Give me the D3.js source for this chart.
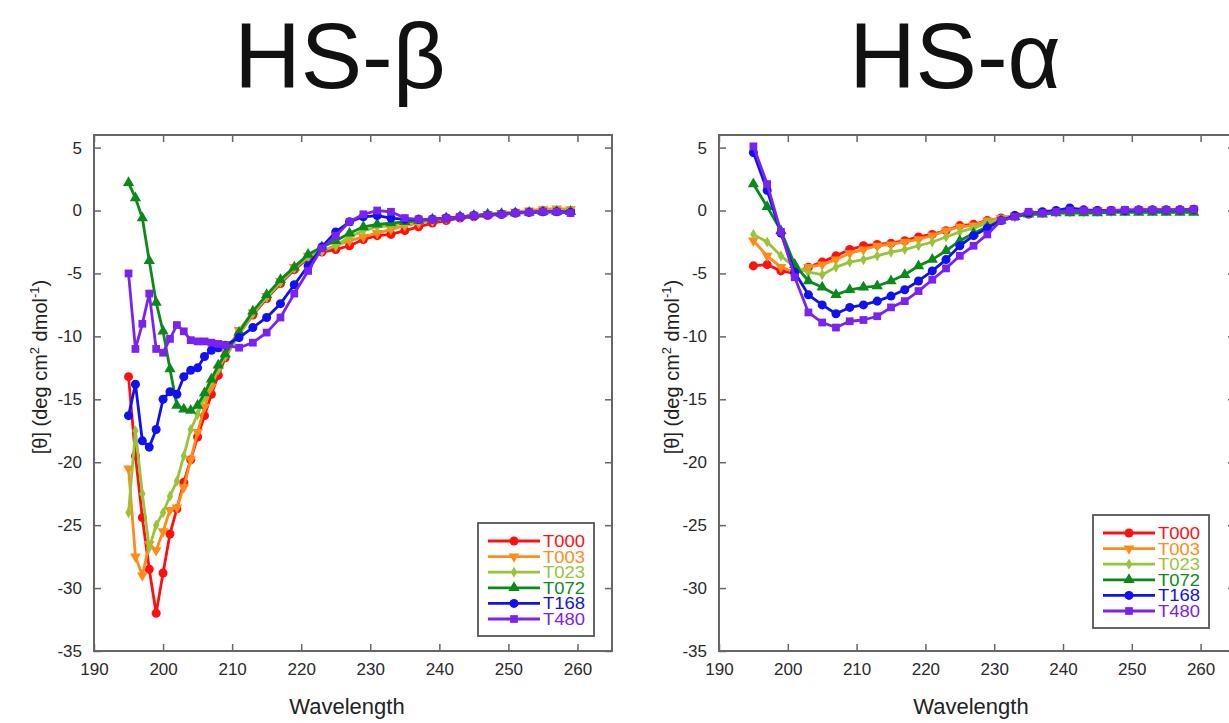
<!DOCTYPE html>
<html>
<head>
<meta charset="utf-8">
<script src="https://cdn.jsdelivr.net/npm/d3@7"></script>
<style>
  body { margin: 0; background: #fff; }
  text { font-family: "Liberation Sans", Arial, sans-serif; }
</style>
</head>
<body>
<script>
// series names and colours
var seriesNames = ["T000", "T003", "T023", "T072", "T168", "T480"];
var seriesColors = ["#ff1010", "#ff8c1a", "#99c43a", "#0a8a1a", "#1010f0", "#7a22f0"];

// axis ticks
var xTicks = [190, 200, 210, 220, 230, 240, 250, 260];
var yTicks = [5, 0, -5, -10, -15, -20, -25, -30, -35];

// HS-beta panel (finer steps at the start)
var wlBeta = [195, 196, 197, 198, 199, 200, 201, 202, 203, 204, 205, 206, 207, 208, 209,
  211, 213, 215, 217, 219, 221, 223, 225, 227, 229, 231, 233, 235, 237, 239,
  241, 243, 245, 247, 249, 251, 253, 255, 257, 259];
var betaT000 = [-13.2, -19.5, -24.4, -28.5, -32.0, -28.8, -25.7, -23.7, -21.6, -19.8, -18.0, -16.3, -14.6, -13.1, -11.7,
  -9.8, -8.3, -7.0, -5.8, -4.7, -3.8, -3.3, -3.1, -2.8, -2.3, -2.0, -1.9, -1.6, -1.3, -1.0,
  -0.8, -0.6, -0.5, -0.4, -0.3, -0.2, -0.1, 0, 0, 0];
var betaT003 = [-20.5, -27.5, -29.0, -26.5, -27.0, -25.5, -23.8, -23.6, -22.0, -19.8, -17.6, -15.6, -14.0, -12.6, -11.3,
  -9.5, -8.1, -6.8, -5.6, -4.5, -3.6, -3.2, -2.8, -2.4, -2.1, -1.8, -1.5, -1.2, -1.0, -0.8,
  -0.6, -0.5, -0.4, -0.3, -0.2, -0.1, 0, 0.1, 0.15, 0.1];
var betaT023 = [-24.0, -17.5, -22.5, -26.8, -25.0, -24.0, -22.7, -21.5, -19.5, -17.4, -16.2, -14.8, -13.6, -12.6, -11.6,
  -9.9, -8.2, -6.9, -5.7, -4.6, -3.7, -3.2, -2.8, -2.1, -1.6, -1.3, -1.2, -1.0, -0.9, -0.8,
  -0.6, -0.5, -0.4, -0.3, -0.2, -0.15, -0.1, -0.05, 0, 0];
var betaT072 = [2.2, 1.0, -0.6, -4.0, -7.3, -9.6, -12.6, -15.5, -15.8, -15.9, -15.5, -14.5, -13.4, -12.3, -11.4,
  -9.7, -8.0, -6.7, -5.5, -4.5, -3.5, -2.9, -2.4, -1.8, -1.3, -1.1, -1.0, -0.9, -0.8, -0.7,
  -0.6, -0.5, -0.4, -0.3, -0.25, -0.2, -0.15, -0.1, -0.1, -0.1];
var betaT168 = [-16.3, -13.8, -18.3, -18.8, -17.4, -15.0, -14.4, -14.6, -13.2, -12.7, -12.5, -11.6, -11.1, -10.9, -10.7,
  -10.1, -9.3, -8.5, -7.4, -5.9, -4.4, -2.9, -1.7, -0.9, -0.5, -0.4, -0.6, -0.7, -0.7, -0.7,
  -0.6, -0.5, -0.4, -0.35, -0.3, -0.2, -0.15, -0.1, -0.1, -0.15];
var betaT480 = [-5.0, -11.0, -9.0, -6.6, -11.0, -11.3, -10.2, -9.1, -9.6, -10.3, -10.4, -10.4, -10.5, -10.6, -10.7,
  -10.9, -10.5, -9.7, -8.5, -6.6, -4.8, -3.0, -2.0, -0.9, -0.3, 0, -0.1, -0.6, -0.7, -0.7,
  -0.6, -0.5, -0.4, -0.35, -0.3, -0.2, -0.15, -0.1, -0.1, -0.2];

// HS-alpha panel (2 nm steps)
var wlAlpha = [195, 197, 199, 201, 203, 205, 207, 209, 211, 213, 215, 217, 219, 221, 223, 225, 227,
  229, 231, 233, 235, 237, 239, 241, 243, 245, 247, 249, 251, 253, 255, 257, 259];
var alphaT000 = [-4.4, -4.3, -4.8, -5.0, -4.5, -4.1, -3.6, -3.1, -2.8, -2.7, -2.6, -2.4, -2.1, -1.9, -1.6, -1.2, -1.1,
  -0.8, -0.6, -0.4, -0.3, -0.2, -0.1, -0.1, 0, 0, 0, 0, 0, 0, 0, 0.05, 0.05];
var alphaT003 = [-2.4, -3.6, -4.5, -4.9, -4.5, -4.3, -3.9, -3.4, -3.1, -2.8, -2.7, -2.5, -2.3, -2.0, -1.6, -1.3, -1.2,
  -0.8, -0.6, -0.4, -0.2, -0.1, -0.1, 0, 0, 0, 0, 0, 0.05, 0.05, 0.05, 0.05, 0.05];
var alphaT023 = [-1.9, -2.5, -3.6, -4.5, -4.9, -5.1, -4.5, -4.1, -3.9, -3.6, -3.3, -3.1, -2.8, -2.5, -2.1, -1.7, -1.4,
  -1.0, -0.7, -0.5, -0.3, -0.2, -0.15, -0.1, -0.1, -0.05, -0.05, 0, 0, 0, 0, 0, 0];
var alphaT072 = [2.1, 0.3, -1.6, -4.3, -5.6, -6.1, -6.7, -6.3, -6.1, -6.0, -5.6, -5.1, -4.4, -3.9, -3.2, -2.4, -1.8,
  -1.3, -0.8, -0.5, -0.3, -0.3, -0.2, -0.2, -0.2, -0.2, -0.15, -0.15, -0.15, -0.15, -0.15, -0.15, -0.15];
var alphaT168 = [4.6, 1.6, -1.8, -4.9, -6.7, -7.5, -8.2, -7.7, -7.5, -7.2, -6.8, -6.3, -5.6, -4.8, -3.9, -2.8, -2.0,
  -1.4, -0.8, -0.4, -0.2, -0.1, 0, 0.2, 0.05, 0, 0, 0, 0.05, 0.05, 0.05, 0.05, 0.1];
var alphaT480 = [5.1, 2.1, -1.7, -5.3, -8.1, -8.9, -9.3, -8.8, -8.7, -8.4, -7.7, -7.2, -6.4, -5.5, -4.6, -3.6, -2.8,
  -1.9, -0.8, -0.5, -0.1, -0.2, -0.1, 0, 0, -0.05, 0, 0.05, 0.05, 0.05, 0.05, 0.05, 0.1];

// marker shapes per series
var symbols = [
  {type: d3.symbolCircle, size: 64, rot: 0},
  {type: d3.symbolTriangle, size: 50, rot: 180},
  {type: d3.symbolDiamond, size: 36, rot: 0},
  {type: d3.symbolTriangle, size: 55, rot: 0},
  {type: d3.symbolCircle, size: 64, rot: 0},
  {type: d3.symbolSquare, size: 60, rot: 0}
];

var W = 1229, H = 723;
var svg = d3.select("body").append("svg")
    .attr("width", W)
    .attr("height", H);

// plain hyphen for negative tick labels, like the original
var tickFmt = function(d) { return String(d); };

function drawPanel(p) {
  var xScale = d3.scaleLinear().domain([190, 265]).range([p.left, p.right]);
  var yScale = d3.scaleLinear().domain([-35, 6]).range([p.bottom, p.top]);
  var g = svg.append("g");

  // title
  g.append("text")
    .attr("x", p.titleX)
    .attr("y", 88)
    .attr("text-anchor", "middle")
    .style("font-size", "92px")
    .style("fill", "#111")
    .text(p.title);

  // axes with inward ticks, on all sides
  var axisColor = "#666";
  var xb = g.append("g").attr("transform", "translate(0," + p.bottom + ")")
    .call(d3.axisBottom(xScale).tickValues(xTicks).tickSizeInner(-7).tickSizeOuter(0).tickPadding(12).tickFormat(tickFmt));
  var xt = g.append("g").attr("transform", "translate(0," + p.top + ")")
    .call(d3.axisTop(xScale).tickValues(xTicks).tickSizeInner(-7).tickSizeOuter(0).tickFormat(""));
  var yl = g.append("g").attr("transform", "translate(" + p.left + ",0)")
    .call(d3.axisLeft(yScale).tickValues(yTicks).tickSizeInner(-7).tickSizeOuter(0).tickPadding(12).tickFormat(tickFmt));
  var yr = g.append("g").attr("transform", "translate(" + p.right + ",0)")
    .call(d3.axisRight(yScale).tickValues(yTicks).tickSizeInner(-7).tickSizeOuter(0).tickFormat(""));
  [xb, xt, yl, yr].forEach(function(a) {
    a.select(".domain").remove();
    a.selectAll("line").attr("stroke", axisColor).attr("stroke-width", 1.5);
    a.selectAll("text")
      .style("font-size", "17px")
      .style("fill", "#2a2a2a")
      .style("font-family", "'Liberation Sans', Arial, sans-serif");
  });

  // frame
  g.append("rect")
    .attr("x", p.left)
    .attr("y", p.top)
    .attr("width", p.right - p.left)
    .attr("height", p.bottom - p.top)
    .attr("fill", "none")
    .attr("stroke", axisColor)
    .attr("stroke-width", 2);

  // axis labels
  g.append("text")
    .attr("x", (p.left + p.right) / 2 - 6)
    .attr("y", 714)
    .attr("text-anchor", "middle")
    .style("font-size", "22px")
    .style("fill", "#222")
    .text("Wavelength");

  var yl2 = g.append("text")
    .attr("transform", "translate(" + (p.left - p.ylabOff) + "," + ((p.top + p.bottom) / 2 - 26) + ") rotate(-90)")
    .attr("text-anchor", "middle")
    .style("font-size", "20px")
    .style("fill", "#222");
  yl2.append("tspan").text("[\u03B8] (deg cm");
  yl2.append("tspan").attr("dy", -8).style("font-size", "13px").text("2");
  yl2.append("tspan").attr("dy", 8).text(" dmol");
  yl2.append("tspan").attr("dy", -8).style("font-size", "13px").text("-1");
  yl2.append("tspan").attr("dy", 8).text(")");

  // lines and markers
  var clip = "clip-" + p.id;
  g.append("clipPath").attr("id", clip)
    .append("rect")
    .attr("x", p.left).attr("y", p.top)
    .attr("width", p.right - p.left).attr("height", p.bottom - p.top);

  var plot = g.append("g").attr("clip-path", "url(#" + clip + ")");
  var line = d3.line()
    .x(function(d) { return xScale(d[0]); })
    .y(function(d) { return yScale(d[1]); });

  p.series.forEach(function(vals, i) {
    var pts = vals.map(function(v, j) { return [p.wl[j], v]; });
    plot.append("path")
      .datum(pts)
      .attr("d", line)
      .attr("fill", "none")
      .attr("stroke", seriesColors[i])
      .attr("stroke-width", 2.8)
      .attr("stroke-linejoin", "round");
    var s = symbols[i];
    plot.selectAll(".pt" + i)
      .data(pts)
      .enter().append("path")
      .attr("class", "pt" + i)
      .attr("d", d3.symbol().type(s.type).size(s.size))
      .attr("transform", function(d) {
        return "translate(" + xScale(d[0]) + "," + yScale(d[1]) + ") rotate(" + s.rot + ")";
      })
      .attr("fill", seriesColors[i]);
  });

  // legend
  var lg = g.append("g").attr("transform", "translate(" + p.legX + "," + p.legY + ")");
  lg.append("rect")
    .attr("x", 0).attr("y", 0)
    .attr("width", 116).attr("height", 113)
    .attr("fill", "#fff")
    .attr("stroke", "#555")
    .attr("stroke-width", 1.8);
  seriesNames.forEach(function(name, i) {
    var yy = 18 + i * 15.6;
    lg.append("line")
      .attr("x1", 10).attr("x2", 62)
      .attr("y1", yy).attr("y2", yy)
      .attr("stroke", seriesColors[i])
      .attr("stroke-width", 2.8);
    var s = symbols[i];
    lg.append("path")
      .attr("d", d3.symbol().type(s.type).size(s.size))
      .attr("transform", "translate(36," + yy + ") rotate(" + s.rot + ")")
      .attr("fill", seriesColors[i]);
    lg.append("text")
      .attr("x", 65)
      .attr("y", yy + 6)
      .attr("textLength", 42)
      .attr("lengthAdjust", "spacingAndGlyphs")
      .style("font-size", "16px")
      .style("fill", seriesColors[i])
      .text(name);
  });
}

drawPanel({
  id: "beta", title: "HS-\u03B2", titleX: 340,
  left: 94, right: 612, top: 135, bottom: 651, ylabOff: 47,
  wl: wlBeta,
  series: [betaT000, betaT003, betaT023, betaT072, betaT168, betaT480],
  legX: 478, legY: 523
});

drawPanel({
  id: "alpha", title: "HS-\u03B1", titleX: 955,
  left: 719, right: 1235, top: 135, bottom: 651, ylabOff: 40,
  wl: wlAlpha,
  series: [alphaT000, alphaT003, alphaT023, alphaT072, alphaT168, alphaT480],
  legX: 1093, legY: 515
});
</script>
</body>
</html>
